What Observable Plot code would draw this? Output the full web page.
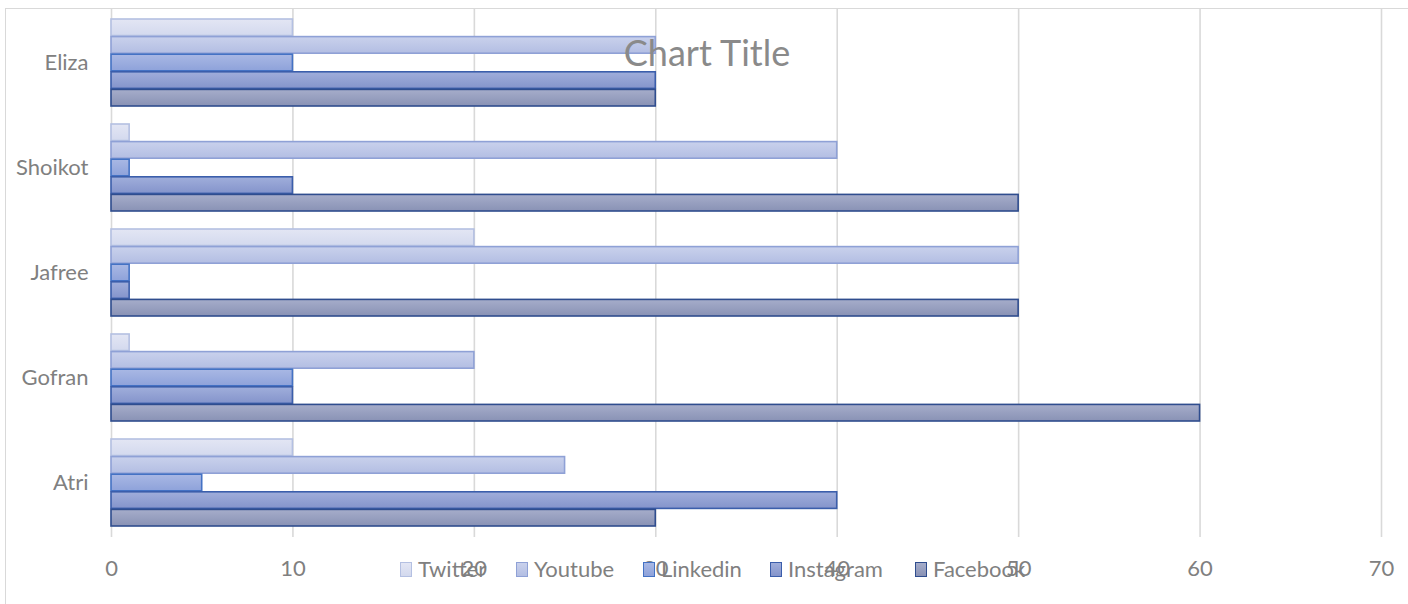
<!DOCTYPE html>
<html>
<head>
<meta charset="utf-8">
<script src="https://cdn.jsdelivr.net/npm/d3@7"></script>
<script src="https://cdn.jsdelivr.net/npm/@observablehq/plot@0.6"></script>
<style>
  html, body { margin: 0; padding: 0; background: #fff; overflow: hidden; width: 1408px; height: 604px; }
  #wrap { position: relative; width: 1408px; height: 604px; font-family: Lato, "Open Sans", sans-serif; }
  #frame { position: absolute; left: 5px; top: 8px; width: 1600px; height: 800px; border: 1.5px solid #d9d9d9; box-sizing: border-box; }
  #chart { position: absolute; left: 0; top: 0; }
  #title { position: absolute; left: 0; width: 1414px; top: 30px; line-height: 44px; text-align: center; font-size: 36px; color: #8a8a8a; pointer-events: none; }
  #legend { position: absolute; top: 556px; left: 0; font-size: 22px; line-height: 26px; color: #808080; white-space: nowrap; }
  #legend .item { position: absolute; top: 0; display: flex; align-items: center; }
  #legend .sw { width: 12px; height: 15px; box-sizing: border-box; margin-right: 6px; border: 1.5px solid; }
</style>
</head>
<body>
<div id="wrap">
  <div id="frame"></div>
  <div id="chart"></div>
  <div id="title">Chart Title</div>
  <div id="legend"></div>
</div>
<script>
const people = ["Eliza", "Shoikot", "Jafree", "Gofran", "Atri"];
const series = ["Twitter", "Youtube", "Linkedin", "Instagram", "Facebook"];
const twitter   = [10, 1, 20, 1, 10];
const youtube   = [30, 40, 50, 20, 25];
const linkedin  = [10, 1, 1, 10, 5];
const instagram = [30, 10, 1, 10, 40];
const facebook  = [30, 50, 50, 60, 30];
const xTicks = [0, 10, 20, 30, 40, 50, 60, 70];

const valuesBySeries = [twitter, youtube, linkedin, instagram, facebook];
const strokes = ["#b4c0e2", "#8fa1d6", "#4472c4", "#3b5eab", "#2f4d8e"];
const gradTop = ["#e3e6f4", "#c9d1ec", "#a9b8e4", "#a0aedb", "#a6adca"];
const gradBot = ["#d3d9ee", "#b3bee3", "#8ea2da", "#8494cb", "#8992b5"];
const legendX = [400, 516, 643, 770, 915];

const data = [];
series.forEach((s, i) => people.forEach((p, j) => data.push({series: s, si: i, person: p, value: valuesBySeries[i][j]})));

const bandwidth = 88;
const h = bandwidth / 5;

const marks = [];
series.forEach((s, i) => {
  marks.push(Plot.barX(data.filter(d => d.series === s), {
    x: "value", y: "person",
    fill: `url(#grad${i})`,
    stroke: strokes[i], strokeWidth: 1.6,
    insetTop: i * h, insetBottom: (4 - i) * h
  }));
});

const chart = Plot.plot({
  width: 1408, height: 604,
  marginLeft: 111, marginRight: 27, marginTop: 9, marginBottom: 67,
  style: { fontFamily: "Lato, 'Open Sans', sans-serif", fontSize: "22px", color: "#808080", background: "transparent" },
  x: { domain: [0, 70], ticks: xTicks, tickSize: 0, tickPadding: 23, label: null, grid: false },
  y: { domain: people, paddingInner: 0.168, paddingOuter: 0.08, tickSize: 0, tickPadding: 23, label: null },
  marks: [
    Plot.ruleX(xTicks, { stroke: "#d9d9d9", strokeWidth: 1.6, strokeOpacity: 1 }),
    ...marks
  ]
});

const defs = d3.create("svg:defs");
series.forEach((s, i) => {
  const g = defs.append("linearGradient").attr("id", `grad${i}`).attr("x1", 0).attr("y1", 0).attr("x2", 0).attr("y2", 1);
  g.append("stop").attr("offset", "0%").attr("stop-color", gradTop[i]);
  g.append("stop").attr("offset", "100%").attr("stop-color", gradBot[i]);
});
chart.insertBefore(defs.node(), chart.firstChild);
d3.select(chart).selectAll("text").attr("fill", "#808080");
document.getElementById("chart").appendChild(chart);

const legend = document.getElementById("legend");
series.forEach((s, i) => {
  const it = document.createElement("div");
  it.className = "item";
  it.style.left = legendX[i] + "px";
  const sw = document.createElement("div");
  sw.className = "sw";
  sw.style.background = `linear-gradient(${gradTop[i]}, ${gradBot[i]})`;
  sw.style.borderColor = strokes[i];
  const t = document.createElement("span");
  t.textContent = s;
  it.appendChild(sw); it.appendChild(t);
  legend.appendChild(it);
});
</script>
</body>
</html>
